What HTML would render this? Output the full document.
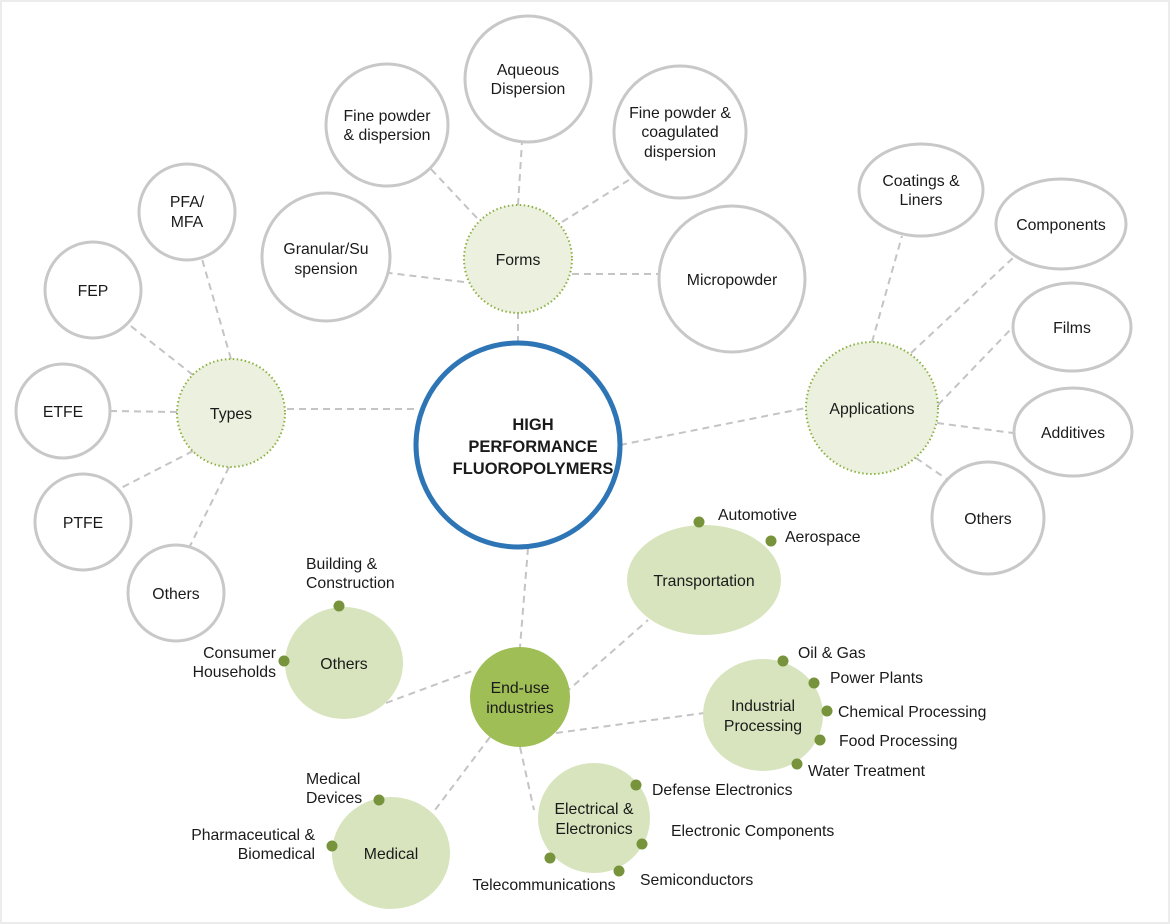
<!DOCTYPE html>
<html><head><meta charset="utf-8"><style>
html,body{margin:0;padding:0;background:#fff}
svg{display:block}
text{font-family:"Liberation Sans",Arial,sans-serif;font-size:15.8px;fill:#1a1a1a;text-anchor:middle}
.l{text-anchor:start}.r{text-anchor:end}
.g{fill:#fff;stroke:#c8c8c8;stroke-width:3}
.f{fill:#ebf1de;stroke:#8db043;stroke-width:2;stroke-dasharray:1.5 2.5}
.p{fill:#d7e4bd}
.d{fill:#77933c}
line{stroke:#c4c4c4;stroke-width:2;stroke-dasharray:7 5}
</style></head><body>
<svg width="1170" height="924" viewBox="0 0 1170 924">
<rect x="1" y="1" width="1168" height="922" fill="#fff" stroke="#ececec" stroke-width="2"/>
<line x1="518" y1="343" x2="518" y2="313"/>
<line x1="518" y1="205" x2="522" y2="142"/>
<line x1="477" y1="218" x2="430" y2="168"/>
<line x1="562" y1="222" x2="632" y2="178"/>
<line x1="464" y1="282" x2="389" y2="273"/>
<line x1="572" y1="274" x2="659" y2="274"/>
<line x1="414" y1="409" x2="285" y2="409"/>
<line x1="231" y1="359" x2="202" y2="259"/>
<line x1="193" y1="375" x2="127" y2="323"/>
<line x1="177" y1="412" x2="111" y2="411"/>
<line x1="193" y1="451" x2="117" y2="490"/>
<line x1="229" y1="467" x2="190" y2="546"/>
<line x1="620" y1="445" x2="806" y2="408"/>
<line x1="872" y1="342" x2="902" y2="236"/>
<line x1="911" y1="353" x2="1014" y2="257"/>
<line x1="938" y1="405" x2="1012" y2="328"/>
<line x1="937" y1="423" x2="1013" y2="433"/>
<line x1="916" y1="458" x2="948" y2="480"/>
<line x1="528" y1="548" x2="520" y2="647"/>
<line x1="386" y1="703" x2="472" y2="671"/>
<line x1="565" y1="693" x2="648" y2="620"/>
<line x1="556" y1="733" x2="704" y2="713"/>
<line x1="520" y1="747" x2="534" y2="810"/>
<line x1="490" y1="737" x2="435" y2="810"/>
<circle cx="518" cy="445" r="102" fill="#fff" stroke="#2e75b6" stroke-width="5"/>
<text x="533" y="430" style="font-weight:bold;font-size:16.5px">HIGH</text>
<text x="533" y="452" style="font-weight:bold;font-size:16.5px">PERFORMANCE</text>
<text x="533" y="474" style="font-weight:bold;font-size:16.5px">FLUOROPOLYMERS</text>
<circle class="f" cx="518" cy="259" r="54"/><text x="518" y="265">Forms</text>
<circle class="f" cx="231" cy="413" r="54"/><text x="231" y="419">Types</text>
<circle class="f" cx="872" cy="408" r="66"/><text x="872" y="414">Applications</text>
<circle cx="520" cy="697" r="50" fill="#9fbe55"/><text x="520" y="693">End-use</text><text x="520" y="713">industries</text>
<circle class="g" cx="528" cy="79" r="63"/><text x="528" y="75">Aqueous</text><text x="528" y="94">Dispersion</text>
<circle class="g" cx="387" cy="125" r="61"/><text x="387" y="121">Fine powder</text><text x="387" y="140">&amp; dispersion</text>
<circle class="g" cx="680" cy="132" r="66"/><text x="680" y="118">Fine powder &amp;</text><text x="680" y="137">coagulated</text><text x="680" y="157">dispersion</text>
<circle class="g" cx="326" cy="257" r="64"/><text x="326" y="254">Granular/Su</text><text x="326" y="274">spension</text>
<circle class="g" cx="732" cy="279" r="73"/><text x="732" y="285">Micropowder</text>
<circle class="g" cx="187" cy="212" r="48"/><text x="187" y="207">PFA/</text><text x="187" y="227">MFA</text>
<circle class="g" cx="93" cy="290" r="48"/><text x="93" y="296">FEP</text>
<circle class="g" cx="63" cy="411" r="47"/><text x="63" y="417">ETFE</text>
<circle class="g" cx="83" cy="522" r="48"/><text x="83" y="528">PTFE</text>
<circle class="g" cx="176" cy="593" r="48"/><text x="176" y="599">Others</text>
<ellipse class="g" cx="921" cy="190" rx="62" ry="46"/><text x="921" y="186">Coatings &amp;</text><text x="921" y="205">Liners</text>
<ellipse class="g" cx="1061" cy="224" rx="65" ry="45"/><text x="1061" y="230">Components</text>
<ellipse class="g" cx="1072" cy="327" rx="59" ry="44"/><text x="1072" y="333">Films</text>
<ellipse class="g" cx="1073" cy="432" rx="59" ry="44"/><text x="1073" y="438">Additives</text>
<circle class="g" cx="988" cy="518" r="56"/><text x="988" y="524">Others</text>
<ellipse class="p" cx="704" cy="580" rx="77" ry="55"/><text x="704" y="586">Transportation</text>
<circle class="d" cx="699" cy="522" r="5.5"/><text class="l" x="718" y="520">Automotive</text>
<circle class="d" cx="771" cy="541" r="5.5"/><text class="l" x="785" y="542">Aerospace</text>
<ellipse class="p" cx="763" cy="715" rx="60" ry="56"/><text x="763" y="711">Industrial</text><text x="763" y="731">Processing</text>
<circle class="d" cx="783" cy="661" r="5.5"/><text class="l" x="798" y="658">Oil &amp; Gas</text>
<circle class="d" cx="814" cy="683" r="5.5"/><text class="l" x="830" y="683">Power Plants</text>
<circle class="d" cx="827" cy="711" r="5.5"/><text class="l" x="838" y="717">Chemical Processing</text>
<circle class="d" cx="820" cy="740" r="5.5"/><text class="l" x="839" y="746">Food Processing</text>
<circle class="d" cx="797" cy="764" r="5.5"/><text class="l" x="808" y="776">Water Treatment</text>
<ellipse class="p" cx="594" cy="818" rx="56" ry="55"/><text x="594" y="814">Electrical &amp;</text><text x="594" y="834">Electronics</text>
<circle class="d" cx="636" cy="785" r="5.5"/><text class="l" x="652" y="795">Defense Electronics</text>
<circle class="d" cx="642" cy="844" r="5.5"/><text class="l" x="671" y="836">Electronic Components</text>
<circle class="d" cx="619" cy="871" r="5.5"/><text class="l" x="640" y="885">Semiconductors</text>
<circle class="d" cx="550" cy="858" r="5.5"/><text x="544" y="890">Telecommunications</text>
<ellipse class="p" cx="344" cy="663" rx="59" ry="56"/><text x="344" y="669">Others</text>
<circle class="d" cx="339" cy="606" r="5.5"/><text class="l" x="306" y="569">Building &amp;</text><text class="l" x="306" y="588">Construction</text>
<circle class="d" cx="284" cy="661" r="5.5"/><text class="r" x="276" y="658">Consumer</text><text class="r" x="276" y="677">Households</text>
<ellipse class="p" cx="391" cy="853" rx="59" ry="56"/><text x="391" y="859">Medical</text>
<circle class="d" cx="379" cy="800" r="5.5"/><text class="l" x="306" y="784">Medical</text><text class="l" x="306" y="803">Devices</text>
<circle class="d" cx="332" cy="846" r="5.5"/><text class="r" x="315" y="840">Pharmaceutical &amp;</text><text class="r" x="315" y="859">Biomedical</text>
</svg>
</body></html>
